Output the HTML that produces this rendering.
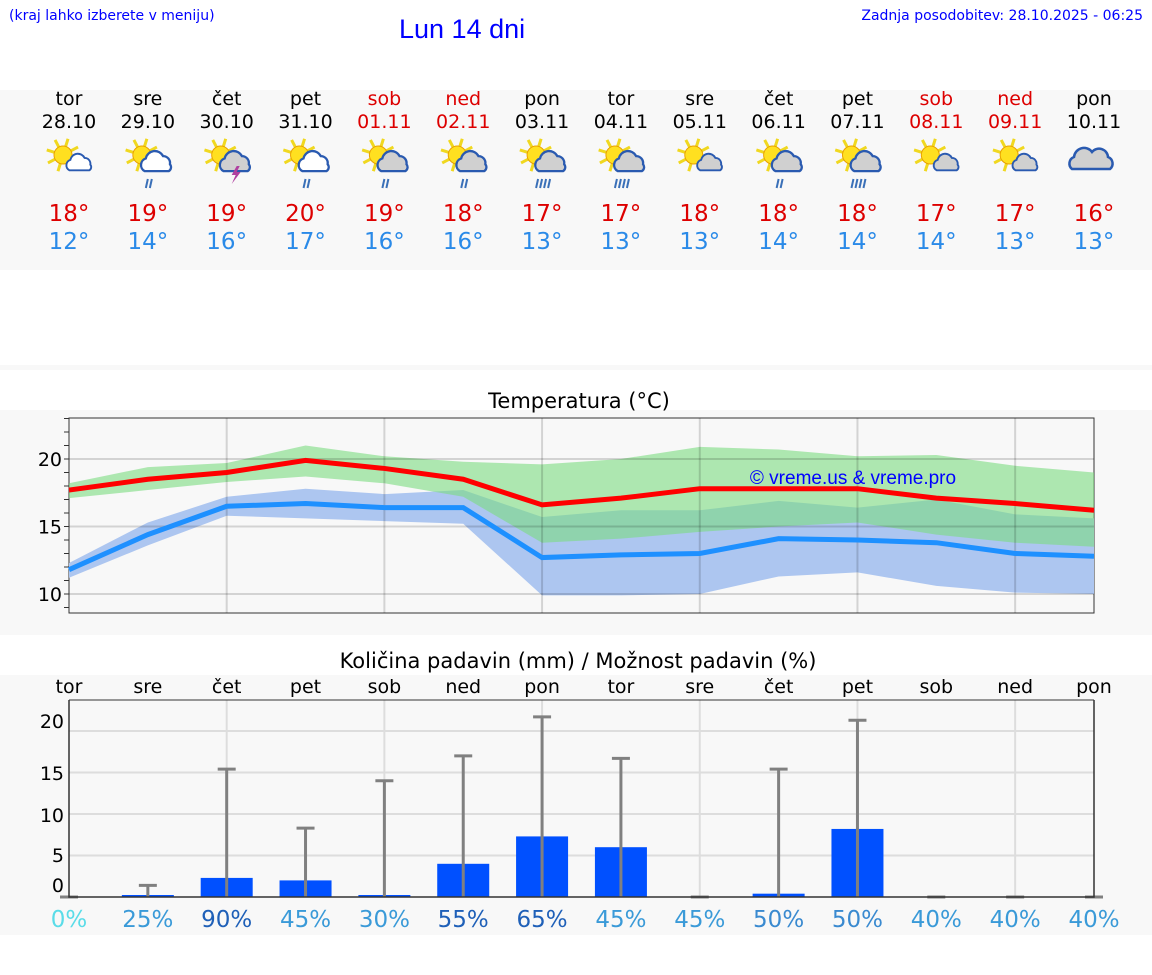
<!DOCTYPE html>
<html><head><meta charset="utf-8"><style>
body{margin:0;width:1152px;height:975px;background:#fff;font-family:"DejaVu Sans","Liberation Sans",sans-serif;position:relative;overflow:hidden}
.a{position:absolute}
</style></head><body>
<div class="a" style="left:9px;top:8px;font:14px 'DejaVu Sans',sans-serif;color:#00f">(kraj lahko izberete v meniju)</div>
<div class="a" style="left:399px;top:14px;font:27px 'Liberation Sans',sans-serif;color:#00f">Lun 14 dni</div>
<div class="a" style="right:9px;top:8px;font:14px 'DejaVu Sans',sans-serif;color:#00f">Zadnja posodobitev: 28.10.2025 - 06:25</div>
<div class="a" style="left:0;top:90px;width:1152px;height:180px;background:#f8f8f8"></div>
<div class="a" style="left:0;top:365px;width:1152px;height:5px;background:#f8f8f8"></div>
<div class="a" style="left:0;top:410px;width:1152px;height:225px;background:#f8f8f8"></div>
<div class="a" style="left:0;top:675px;width:1152px;height:260px;background:#f8f8f8"></div>
<div id="days"></div>
<svg id="ch" class="a" style="left:0;top:0" width="1152" height="975"></svg>
<script>
const dayNames=['tor','sre','čet','pet','sob','ned','pon','tor','sre','čet','pet','sob','ned','pon'];
const dates=['28.10','29.10','30.10','31.10','01.11','02.11','03.11','04.11','05.11','06.11','07.11','08.11','09.11','10.11'];
const weekend=[0,0,0,0,1,1,0,0,0,0,0,1,1,0];
const icons=['sc','scr','sct','scr','sgr','sgr','sgrr','sgrr','sg','sgr','sgrr','sg','sg','c'];
const hiT=[18,19,19,20,19,18,17,17,18,18,18,17,17,16];
const loT=[12,14,16,17,16,16,13,13,13,14,14,14,13,13];
const tMax=[17.7,18.5,19.0,19.9,19.3,18.5,16.6,17.1,17.8,17.8,17.8,17.1,16.7,16.2];
const tMaxHi=[18.2,19.4,19.7,21.0,20.2,19.8,19.6,20.0,20.9,20.7,20.2,20.3,19.5,19.0];
const tMaxLo=[17.1,17.7,18.3,18.7,18.2,17.2,13.8,14.1,14.6,15.0,15.3,14.4,13.8,13.5];
const tMin=[11.8,14.4,16.5,16.7,16.4,16.4,12.7,12.9,13.0,14.1,14.0,13.8,13.0,12.8];
const tMinHi=[12.3,15.3,17.2,17.8,17.4,17.7,15.7,16.2,16.2,16.9,16.4,17.0,15.9,15.6];
const tMinLo=[11.2,13.6,15.8,15.6,15.4,15.2,9.9,9.9,10.0,11.3,11.6,10.6,10.1,10.0];
const tTicks=[10,15,20];
const rain=[0,0.2,2.3,2.0,0.1,4.0,7.3,6.0,0,0.4,8.2,0,0,0];
const rainMax=[0,1.4,15.4,8.3,14.0,17.0,21.7,16.7,0,15.4,21.3,0,0,0];
const prob=[0,25,90,45,30,55,65,45,45,50,50,40,40,40];
const rTicks=[0,5,10,15,20];

const NS='http://www.w3.org/2000/svg';
const svg=document.getElementById('ch');
function el(t,a,p){const e=document.createElementNS(NS,t);for(const k in a)e.setAttribute(k,a[k]);(p||svg).appendChild(e);return e;}
const X0=69,X1=1094;
const xs=i=>X0+i*(X1-X0)/13;
const ty=t=>459+(20-t)*13.5;
const ry=v=>897-v*8.3;

const days=document.getElementById('days');
const cloudD='M-8 14 a6 6 0 0 1 1-11 a8 8 0 0 1 15-2 a6 6 0 0 1 6 7 a4 4 0 0 1 -1 6 z';
dayNames.forEach((d,i)=>{
  const c=document.createElement('div');c.className='a';
  
  
  c.style.cssText=`left:${xs(i)-40}px;top:88px;width:80px;text-align:center;font-size:19px;color:${weekend[i]?'#d00':'#000'}`;
  c.innerHTML=`<div style="line-height:23px">${d}</div><div style="line-height:23px">${dates[i]}</div>
  <div style="height:66px"></div>
  <div style="font-size:23px;color:#d00;line-height:28px">${hiT[i]}°</div>
  <div style="font-size:23px;color:#2a8ae8;line-height:28px">${loT[i]}°</div>`;
  days.appendChild(c);
  const g=el('g',{transform:`translate(${xs(i)},155)`});
  
  
  const t=icons[i];
  if(t!=='c'){
    for(let k=0;k<8;k++){const a=k*Math.PI/4+0.3;el('line',{x1:-6+Math.cos(a)*9,y1:Math.sin(a)*9,x2:-6+Math.cos(a)*17,y2:Math.sin(a)*17,stroke:'#f0d820','stroke-width':3},g);}
    el('circle',{cx:-6,cy:0,r:9,fill:'#ffe020',stroke:'#e8a000','stroke-width':1},g);
    const big=t.includes('r')||t==='sct';
    el('path',{d:cloudD,fill:(t.includes('g')||t==='sct')?'#d0d0d0':'#fff',stroke:'#2a5ab0',"stroke-width":2,transform:big?'translate(6,0) scale(1.15)':'translate(8,2) scale(0.95)'},g);
  }else{
    el('path',{d:'M-22 14 a7 7 0 0 1 2-12 a10 10 0 0 1 18-5 a9 9 0 0 1 16 5 a7 7 0 0 1 2 12 z',fill:'#d0d0d0',stroke:'#2a5ab0',"stroke-width":2.5},g);
  }
  if(t.includes('r')){const n=t.endsWith('rr')?4:2;for(let k=0;k<n;k++)el('line',{x1:2+(k-(n-1)/2)*4,y1:24,x2:0+(k-(n-1)/2)*4,y2:33,stroke:'#3a70b8','stroke-width':2},g);}
  if(t==='sct')el('path',{d:'M10 11 l-5 9 h4 l-4 9 l9-12 h-4 l3-6z',fill:'#b040a0'},g);
});

function txt(x,y,s,a){const e=el('text',Object.assign({x,y,'font-size':19,'font-family':'DejaVu Sans, Liberation Sans, sans-serif'},a||{}));e.textContent=s;return e;}
const tt=txt(579,408,'Temperatura (°C)',{'text-anchor':'middle','font-size':21,'font-family':'DejaVu Sans, sans-serif'});

el('rect',{x:X0,y:418,width:X1-X0,height:195,fill:'#f8f8f8',stroke:'#333','stroke-width':1});
for(let t=9;t<=23;t++){el('line',{x1:X0-5,x2:X0,y1:ty(t),y2:ty(t),stroke:'#333'});}
function band(hi,lo,fill,op,name){const p=hi.map((v,i)=>`${xs(i)},${ty(v)}`).concat(lo.map((v,i)=>`${xs(i)},${ty(v)}`).reverse());const e=el('polygon',{points:p.join(' '),fill,'fill-opacity':op});}
band(tMinHi,tMinLo,'#adc6f0',1,'min-temp-band');
band(tMaxHi,tMaxLo,'#7bdc80',0.6,'max-temp-band');
tTicks.forEach(t=>{el('line',{x1:X0,x2:X1,y1:ty(t),y2:ty(t),stroke:'#000','stroke-opacity':0.15,'stroke-width':2});const l=txt(62,ty(t)+7,t,{'text-anchor':'end'});});
[2,4,6,8,10,12].forEach(i=>el('line',{x1:xs(i),x2:xs(i),y1:418,y2:613,stroke:'#000','stroke-opacity':0.15,'stroke-width':2}));
function line(v,c,name){const e=el('polyline',{points:v.map((t,i)=>`${xs(i)},${ty(t)}`).join(' '),fill:'none',stroke:c,'stroke-width':5});}
line(tMin,'#1e90ff','min-temp-line');
line(tMax,'#ff0000','max-temp-line');
const cp=txt(853,484,'© vreme.us & vreme.pro',{'text-anchor':'middle','font-size':19,fill:'#00f','font-family':'Liberation Sans, sans-serif'});


const pt=txt(578,668,'Količina padavin (mm) / Možnost padavin (%)',{'text-anchor':'middle','font-size':21,'font-family':'DejaVu Sans, sans-serif'});

dayNames.forEach((d,i)=>{const e=txt(xs(i),693,d,{'text-anchor':'middle'});});
el('rect',{x:X0,y:700,width:X1-X0,height:197,fill:'#f8f8f8'});
[5,10,15,20].forEach(v=>el('line',{x1:X0,x2:X1,y1:ry(v),y2:ry(v),stroke:'#ddd','stroke-width':2}));
[2,4,6,8,10,12].forEach(i=>el('line',{x1:xs(i),x2:xs(i),y1:700,y2:897,stroke:'#ddd','stroke-width':2}));
const rLab={0:892,5:862,10:822,15:780,20:728};
rTicks.forEach(v=>{const e=txt(64,rLab[v],v,{'text-anchor':'end'});});
rain.forEach((v,i)=>{if(v>0){const h=Math.max(2,897-ry(v));const b=el('rect',{x:xs(i)-26,y:897-h,width:52,height:h,fill:'#0050ff'});}});
rainMax.forEach((v,i)=>{const g=el('g',{stroke:'#808080','stroke-width':3});
  el('line',{x1:xs(i),x2:xs(i),y1:ry(v),y2:897},g);el('line',{x1:xs(i)-9,x2:xs(i)+9,y1:ry(v),y2:ry(v)},g);});
el('path',{d:`M${X0} 700 V897 H${X1} V700`,fill:'none',stroke:'#333','stroke-width':1.5});
el('line',{x1:X0,x2:X1,y1:700,y2:700,stroke:'#333'});
const pc=p=>p===0?'#5adce8':p<50?'#3a9ad8':p<55?'#3a8ad0':'#1f60b8';
prob.forEach((p,i)=>{const e=txt(xs(i),927,p+'%',{'text-anchor':'middle','font-size':23,fill:pc(p)});});
</script>
</body></html>
